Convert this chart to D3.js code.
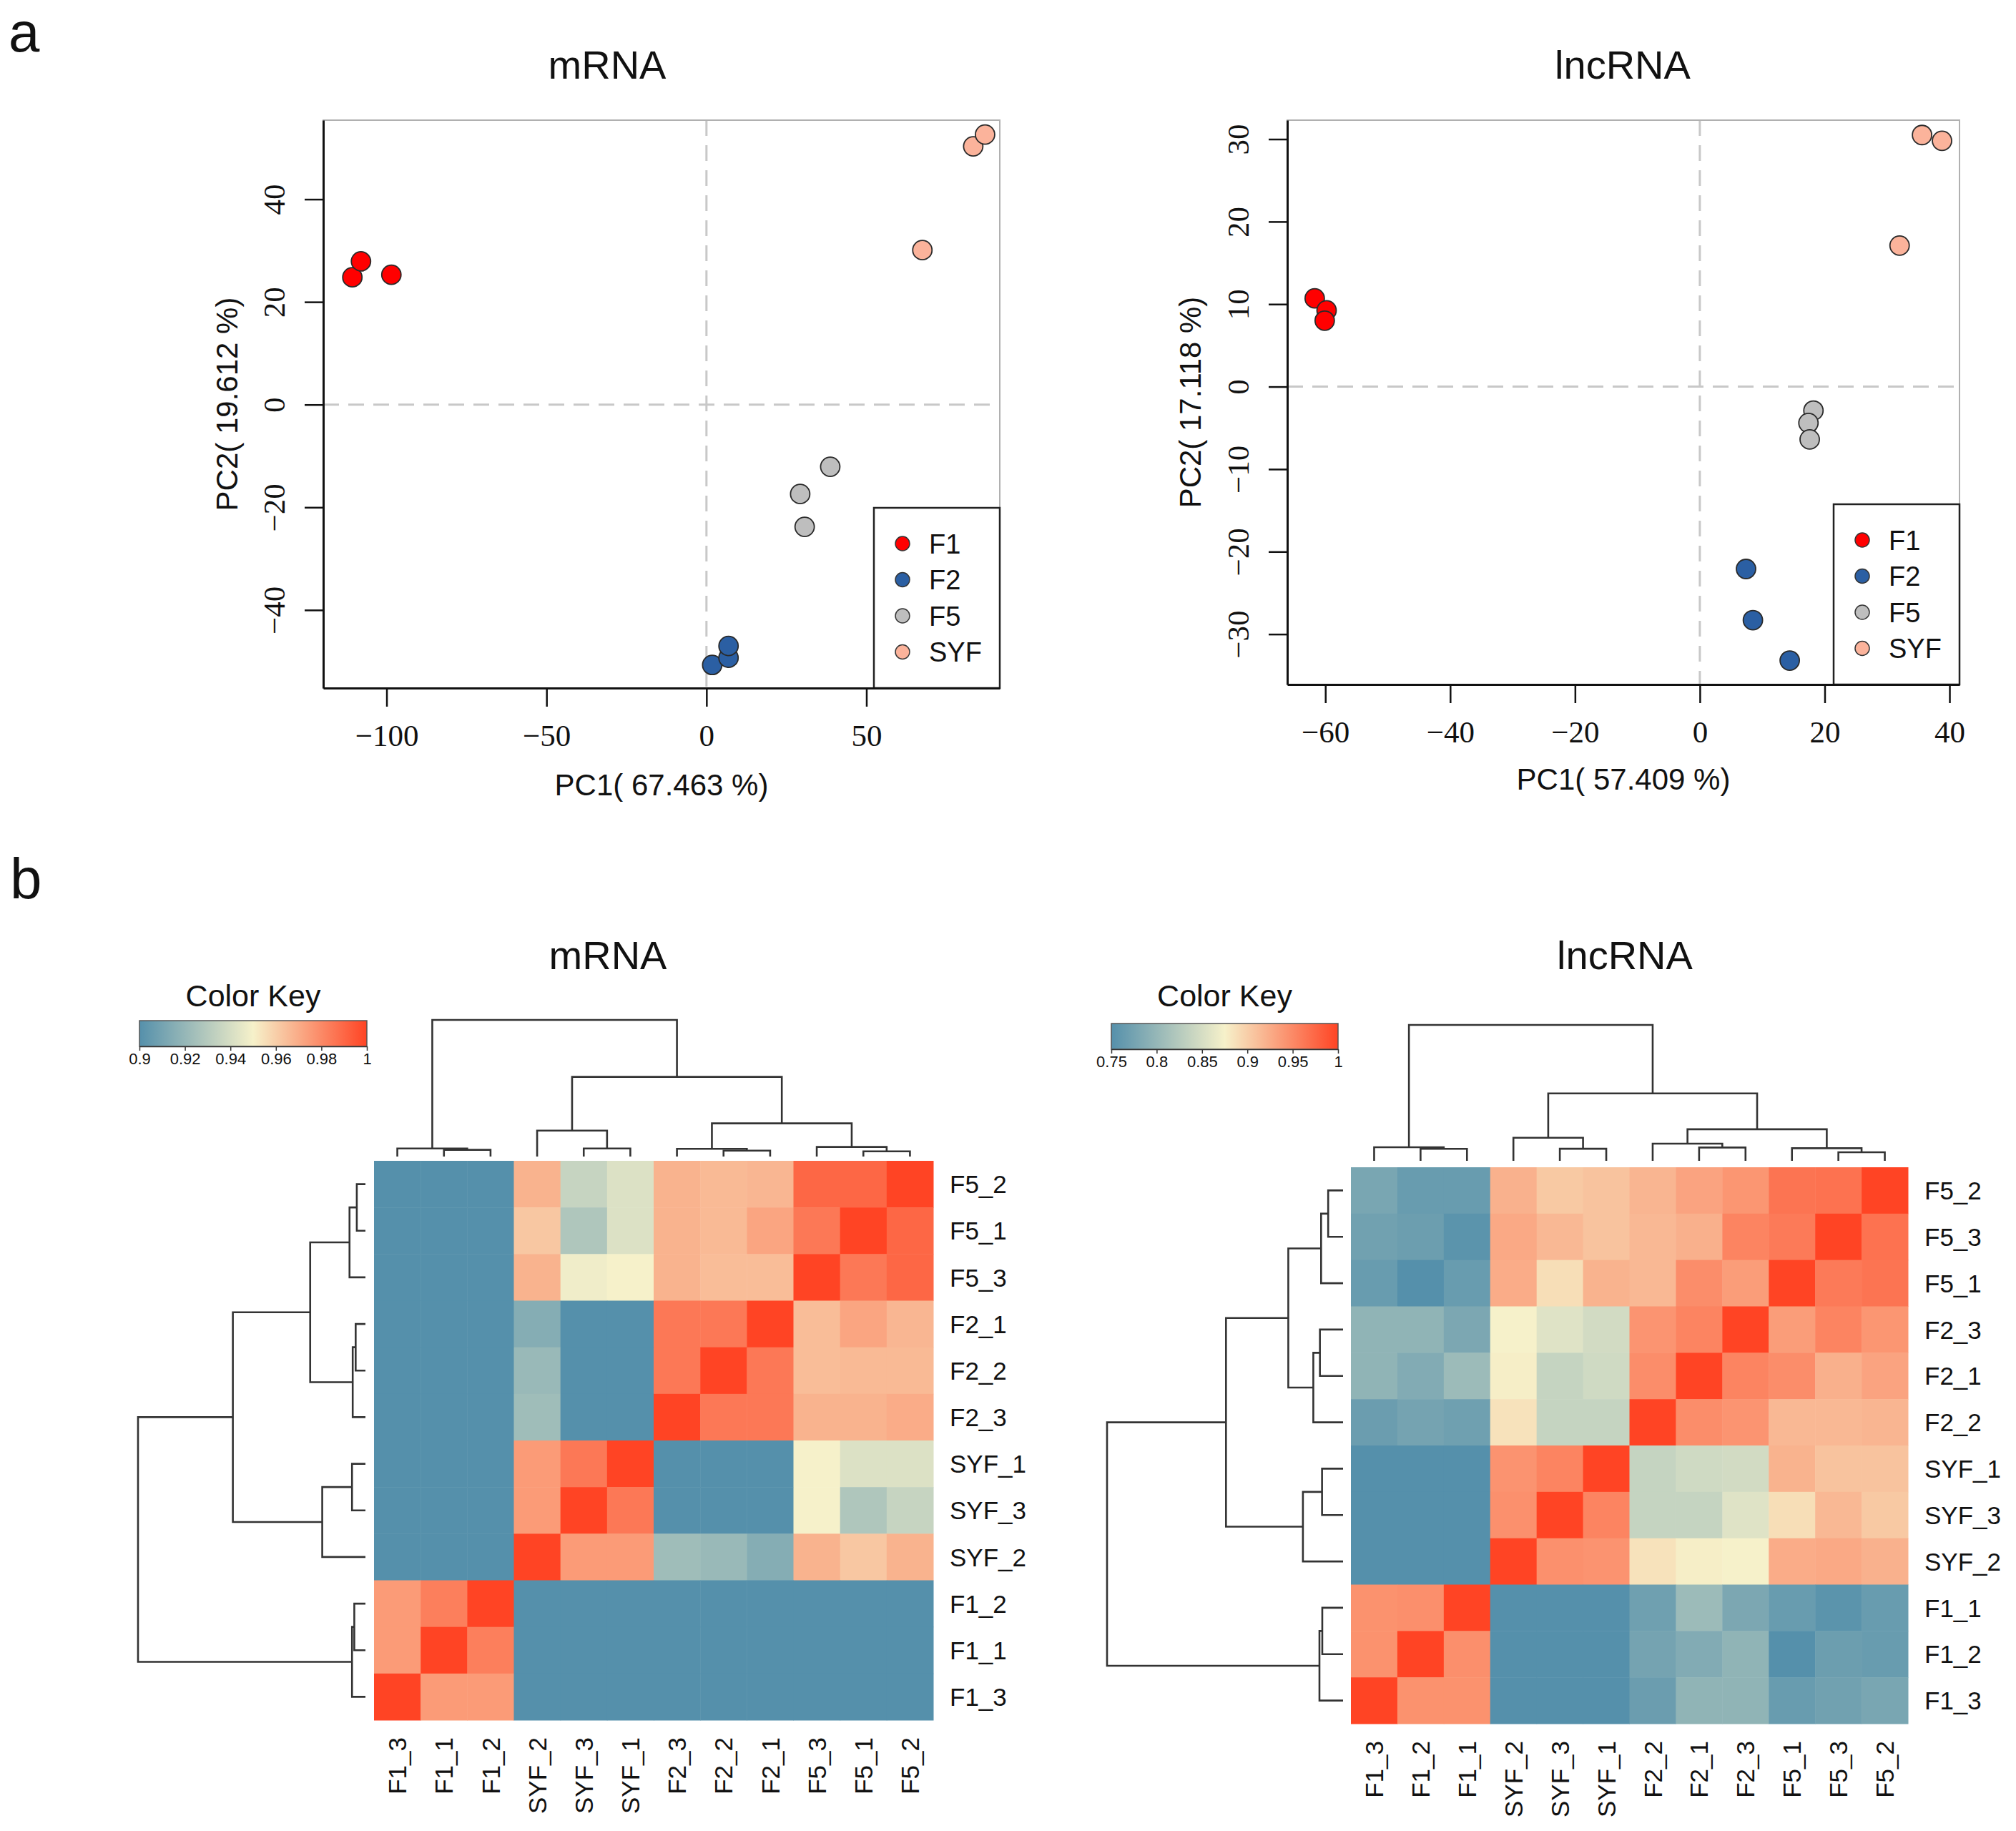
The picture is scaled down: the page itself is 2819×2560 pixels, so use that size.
<!DOCTYPE html>
<html>
<head>
<meta charset="utf-8">
<script src="https://cdn.jsdelivr.net/npm/d3@7"></script>
<style>
  body { margin: 0; background: #fff; }
  svg { display: block; }
  text { fill: #111; }
</style>
</head>
<body>
<div id="chart"></div>
<script>
// ---- PCA data ----
const groups = ["F1", "F2", "F5", "SYF"]
const groupColors = ["#FF0000", "#2B5FA3", "#BEBEBE", "#FBB39B"]
const sampleGroup = ["F1", "F1", "F1", "F2", "F2", "F2", "F5", "F5", "F5", "SYF", "SYF", "SYF"]

const mrnaPC1 = [-110.7, -108.0, -98.5, 1.8, 6.9, 6.9, 29.3, 30.7, 38.7, 67.5, 83.4, 87.1]
const mrnaPC2 = [24.8, 27.9, 25.3, -50.7, -49.3, -47.0, -17.4, -23.8, -12.1, 30.1, 50.3, 52.6]
const lncPC1 = [-61.7, -59.8, -60.1, 7.4, 8.5, 14.4, 18.2, 17.4, 17.6, 32.0, 35.6, 38.8]
const lncPC2 = [10.7, 9.25, 8.0, -22.1, -28.3, -33.2, -2.9, -4.4, -6.4, 17.1, 30.5, 29.8]

const mrnaXTicks = [-100, -50, 0, 50]
const mrnaYTicks = [-40, -20, 0, 20, 40]
const lncXTicks = [-60, -40, -20, 0, 20, 40]
const lncYTicks = [-30, -20, -10, 0, 10, 20, 30]

// ---- heatmap data ----
const mrnaCols = ["F1_3", "F1_1", "F1_2", "SYF_2", "SYF_3", "SYF_1", "F2_3", "F2_2", "F2_1", "F5_3", "F5_1", "F5_2"]
const mrnaRows = ["F5_2", "F5_1", "F5_3", "F2_1", "F2_2", "F2_3", "SYF_1", "SYF_3", "SYF_2", "F1_2", "F1_1", "F1_3"]
const mrnaCor = [
  [0.86, 0.86, 0.86, 0.968, 0.935, 0.942, 0.968, 0.966, 0.967, 0.990, 0.990, 1],
  [0.86, 0.86, 0.86, 0.962, 0.928, 0.942, 0.968, 0.966, 0.972, 0.985, 1, 0.990],
  [0.86, 0.86, 0.86, 0.968, 0.948, 0.950, 0.968, 0.965, 0.965, 1, 0.985, 0.990],
  [0.86, 0.86, 0.86, 0.915, 0.89, 0.89, 0.985, 0.985, 1, 0.965, 0.972, 0.967],
  [0.86, 0.86, 0.86, 0.921, 0.89, 0.89, 0.985, 1, 0.985, 0.965, 0.966, 0.966],
  [0.86, 0.86, 0.86, 0.923, 0.89, 0.89, 1, 0.985, 0.985, 0.968, 0.968, 0.970],
  [0.86, 0.86, 0.86, 0.975, 0.985, 1, 0.89, 0.89, 0.89, 0.950, 0.942, 0.942],
  [0.86, 0.86, 0.86, 0.975, 1, 0.985, 0.89, 0.89, 0.89, 0.950, 0.928, 0.935],
  [0.86, 0.86, 0.86, 1, 0.975, 0.975, 0.923, 0.921, 0.915, 0.968, 0.962, 0.968],
  [0.975, 0.983, 1, 0.86, 0.86, 0.86, 0.86, 0.86, 0.86, 0.86, 0.86, 0.86],
  [0.975, 1, 0.983, 0.86, 0.86, 0.86, 0.86, 0.86, 0.86, 0.86, 0.86, 0.86],
  [1, 0.975, 0.975, 0.86, 0.86, 0.86, 0.86, 0.86, 0.86, 0.86, 0.86, 0.86]
]
// dendrogram: [height, left, right], heights relative to the root
const mrnaTree = [1.0,
  [0.059, "F1_3", [0.049, "F1_1", "F1_2"]],
  [0.583,
    [0.19, "SYF_2", [0.059, "SYF_3", "SYF_1"]],
    [0.243,
      [0.056, "F2_3", [0.043, "F2_2", "F2_1"]],
      [0.07, "F5_3", [0.038, "F5_1", "F5_2"]]]]]
const mrnaKeyStops = [0.9, 0.95, 1]
const mrnaKeyTicks = [0.9, 0.92, 0.94, 0.96, 0.98, 1]

const lncCols = ["F1_3", "F1_2", "F1_1", "SYF_2", "SYF_3", "SYF_1", "F2_2", "F2_1", "F2_3", "F5_1", "F5_3", "F5_2"]
const lncRows = ["F5_2", "F5_3", "F5_1", "F2_3", "F2_1", "F2_2", "SYF_1", "SYF_3", "SYF_2", "F1_1", "F1_2", "F1_3"]
const lncCor = [
  [0.778, 0.765, 0.765, 0.921, 0.904, 0.908, 0.918, 0.931, 0.941, 0.965, 0.967, 1],
  [0.772, 0.768, 0.755, 0.927, 0.916, 0.908, 0.916, 0.922, 0.954, 0.961, 1, 0.967],
  [0.765, 0.750, 0.765, 0.925, 0.889, 0.920, 0.916, 0.947, 0.936, 1, 0.961, 0.965],
  [0.796, 0.796, 0.780, 0.875, 0.857, 0.847, 0.942, 0.954, 1, 0.936, 0.954, 0.941],
  [0.796, 0.785, 0.805, 0.877, 0.837, 0.845, 0.947, 1, 0.954, 0.947, 0.922, 0.931],
  [0.767, 0.775, 0.770, 0.886, 0.837, 0.837, 1, 0.947, 0.942, 0.916, 0.916, 0.918],
  [0.72, 0.72, 0.72, 0.943, 0.954, 1, 0.837, 0.845, 0.847, 0.920, 0.908, 0.908],
  [0.72, 0.72, 0.72, 0.945, 1, 0.954, 0.837, 0.837, 0.857, 0.889, 0.916, 0.904],
  [0.72, 0.72, 0.72, 1, 0.945, 0.943, 0.886, 0.877, 0.875, 0.925, 0.927, 0.921],
  [0.944, 0.946, 1, 0.72, 0.72, 0.72, 0.770, 0.805, 0.780, 0.765, 0.755, 0.765],
  [0.944, 1, 0.946, 0.72, 0.72, 0.72, 0.775, 0.785, 0.796, 0.750, 0.768, 0.765],
  [1, 0.944, 0.944, 0.72, 0.72, 0.72, 0.767, 0.796, 0.796, 0.765, 0.772, 0.778]
]
const lncTree = [1.0,
  [0.10, "F1_3", [0.088, "F1_2", "F1_1"]],
  [0.496,
    [0.17, "SYF_2", [0.089, "SYF_3", "SYF_1"]],
    [0.232,
      [0.126, "F2_2", [0.098, "F2_1", "F2_3"]],
      [0.093, "F5_1", [0.063, "F5_3", "F5_2"]]]]]
const lncKeyStops = [0.75, 0.875, 1]
const lncKeyTicks = [0.75, 0.8, 0.85, 0.9, 0.95, 1]

const heatColors = ["#5590AB", "#F6F1CA", "#FF4424"]

const SANS = "'Liberation Sans', Arial, sans-serif"
const SERIF = "'Liberation Serif', 'Times New Roman', serif"

const width = 2819
const height = 2560
const svg = d3.select("#chart").append("svg").attr("width", width).attr("height", height)
svg.append("rect").attr("width", width).attr("height", height).attr("fill", "#fff")

// panel letters
svg.append("text").attr("x", 12).attr("y", 72).attr("font-family", SANS).attr("font-size", 78).text("a")
svg.append("text").attr("x", 14).attr("y", 1256).attr("font-family", SANS).attr("font-size", 80).text("b")

// ---------- PCA ----------
function drawPCA(p) {
  const g = svg.append("g")
  const x = d3.scaleLinear().domain(p.xDom).range([p.x0, p.x1])
  const y = d3.scaleLinear().domain(p.yDom).range([p.y1, p.y0])
  const color = d3.scaleOrdinal().domain(groups).range(groupColors)

  g.append("text").attr("x", p.titleX).attr("y", 110).attr("text-anchor", "middle")
    .attr("font-family", SANS).attr("font-size", 56).text(p.title)

  // dashed zero lines
  g.append("line").attr("x1", x(0)).attr("x2", x(0)).attr("y1", p.y0).attr("y2", p.y1)
    .attr("stroke", "#c8c8c8").attr("stroke-width", 3).attr("stroke-dasharray", "22,13")
  g.append("line").attr("x1", p.x0).attr("x2", p.x1).attr("y1", y(0)).attr("y2", y(0))
    .attr("stroke", "#c8c8c8").attr("stroke-width", 3).attr("stroke-dasharray", "22,13")

  // box (top/right grey)
  g.append("rect").attr("x", p.x0).attr("y", p.y0).attr("width", p.x1 - p.x0).attr("height", p.y1 - p.y0)
    .attr("fill", "none").attr("stroke", "#b0b0b0").attr("stroke-width", 2)

  const pts = p.pc1.map((v, i) => ({ pc1: v, pc2: p.pc2[i], grp: sampleGroup[i] }))
  g.selectAll("circle.pt").data(pts).enter().append("circle").attr("class", "pt")
    .attr("cx", d => x(d.pc1)).attr("cy", d => y(d.pc2)).attr("r", 13.5)
    .attr("fill", d => color(d.grp)).attr("stroke", "#2a2a2a").attr("stroke-width", 1.8)

  // legend
  const lw = 176, lh = 252
  const lg = g.append("g").attr("transform", `translate(${p.x1 - lw},${p.y1 - lh})`)
  lg.append("rect").attr("width", lw).attr("height", lh).attr("fill", "#fff")
    .attr("stroke", "#222").attr("stroke-width", 2.5)
  const items = lg.selectAll("g.item").data(groups).enter().append("g").attr("class", "item")
    .attr("transform", (d, i) => `translate(0,${50 + i * 50.5})`)
  items.append("circle").attr("cx", 40).attr("r", 10).attr("fill", d => color(d))
    .attr("stroke", "#333").attr("stroke-width", 1.5)
  items.append("text").attr("x", 77).attr("dy", "0.36em").attr("font-family", SANS)
    .attr("font-size", 38).text(d => d)

  // axes
  const xAxis = d3.axisBottom(x).tickValues(p.xTicks).tickSize(26).tickSizeOuter(0)
  const yAxis = d3.axisLeft(y).tickValues(p.yTicks).tickSize(26).tickSizeOuter(0)
  const xg = g.append("g").attr("transform", `translate(0,${p.y1})`).call(xAxis)
  const yg = g.append("g").attr("transform", `translate(${p.x0},0)`).call(yAxis)
  ;[xg, yg].forEach(ax => {
    ax.attr("font-family", SERIF).attr("font-size", 43)
    ax.select(".domain").attr("stroke", "#111").attr("stroke-width", 3)
    ax.selectAll(".tick line").attr("stroke", "#111").attr("stroke-width", 2.5)
    ax.selectAll("text").attr("font-family", SERIF).attr("font-size", 43).attr("fill", "#111")
  })
  xg.selectAll("text").attr("y", 51).attr("dy", "0.7em")
  yg.selectAll("text").attr("x", null).attr("dy", null).attr("text-anchor", "middle")
    .attr("transform", "translate(-54,0) rotate(-90)")

  g.append("text").attr("x", (p.x0 + p.x1) / 2).attr("y", p.xLabelY).attr("text-anchor", "middle")
    .attr("font-family", SANS).attr("font-size", 42).text(p.xLabel)
  g.append("text").attr("transform", `translate(${p.yLabelX},${(p.y0 + p.y1) / 2}) rotate(-90)`)
    .attr("text-anchor", "middle").attr("dy", "0.35em")
    .attr("font-family", SANS).attr("font-size", 42).text(p.yLabel)
}

drawPCA({ title: "mRNA", titleX: 849, xLabel: "PC1( 67.463 %)", yLabel: "PC2( 19.612 %)",
  x0: 452, x1: 1398, y0: 168, y1: 962, xDom: [-119.8, 91.7], yDom: [-55.2, 55.4],
  xTicks: mrnaXTicks, yTicks: mrnaYTicks, pc1: mrnaPC1, pc2: mrnaPC2, xLabelY: 1112, yLabelX: 317 })
drawPCA({ title: "lncRNA", titleX: 2269, xLabel: "PC1( 57.409 %)", yLabel: "PC2( 17.118 %)",
  x0: 1800, x1: 2740, y0: 168, y1: 957, xDom: [-66.1, 41.6], yDom: [-36.1, 32.3],
  xTicks: lncXTicks, yTicks: lncYTicks, pc1: lncPC1, pc2: lncPC2, xLabelY: 1104, yLabelX: 1664 })

// ---------- heatmaps ----------
function layoutTree(node, pos, segs) {
  if (typeof node === "string") return { p: pos(node), h: 0 }
  const [h, a, b] = node
  const A = layoutTree(a, pos, segs)
  const B = layoutTree(b, pos, segs)
  segs.push({ h: h, p1: A.p, p2: B.p, h1: A.h, h2: B.h })
  return { p: (A.p + B.p) / 2, h: h }
}

let gradId = 0
function drawHeatmap(p) {
  const g = svg.append("g")
  const x = d3.scaleBand().domain(p.cols).range([p.x0, p.x1])
  const y = d3.scaleBand().domain(p.rows).range([p.y0, p.y1])
  const color = d3.scaleLinear().domain(p.keyStops).range(heatColors).clamp(true)

  g.append("text").attr("x", p.titleX).attr("y", 1355).attr("text-anchor", "middle")
    .attr("font-family", SANS).attr("font-size", 56).text(p.title)

  const cells = []
  p.matrix.forEach((row, i) => row.forEach((v, j) => cells.push({ r: p.rows[i], c: p.cols[j], v: v })))
  g.selectAll("rect.cell").data(cells).enter().append("rect").attr("class", "cell")
    .attr("x", d => x(d.c)).attr("y", d => y(d.r))
    .attr("width", x.bandwidth() + 0.5).attr("height", y.bandwidth() + 0.5)
    .attr("fill", d => color(d.v))

  // row labels
  g.selectAll("text.rl").data(p.rows).enter().append("text").attr("class", "rl")
    .attr("x", p.x1 + 23).attr("y", d => y(d) + y.bandwidth() / 2).attr("dy", "0.36em")
    .attr("font-family", SANS).attr("font-size", 35).text(d => d)
  // column labels
  g.selectAll("text.cl").data(p.cols).enter().append("text").attr("class", "cl")
    .attr("transform", d => `translate(${x(d) + x.bandwidth() / 2},${p.y1 + 24}) rotate(-90)`)
    .attr("text-anchor", "end").attr("dy", "0.36em")
    .attr("font-family", SANS).attr("font-size", 35).text(d => d)

  // column dendrogram
  const hc = d3.scaleLinear().domain([0, 1]).range([p.colDendroBase, p.colDendroTop])
  const segC = []
  layoutTree(p.tree, d => x(d) + x.bandwidth() / 2, segC)
  const dg = g.append("g").attr("stroke", "#333").attr("stroke-width", 2.6).attr("fill", "none")
  segC.forEach(s => {
    dg.append("path").attr("d",
      `M${s.p1},${hc(s.h1)}V${hc(s.h)}H${s.p2}V${hc(s.h2)}`)
  })
  // row dendrogram (same tree)
  const hr = d3.scaleLinear().domain([0, 1]).range([p.rowDendroBase, p.rowDendroTop])
  const segR = []
  layoutTree(p.tree, d => y(d) + y.bandwidth() / 2, segR)
  segR.forEach(s => {
    dg.append("path").attr("d",
      `M${hr(s.h1)},${s.p1}H${hr(s.h)}V${s.p2}H${hr(s.h2)}`)
  })

  // colour key
  const kx = d3.scaleLinear().domain([p.keyStops[0], p.keyStops[2]]).range([p.keyX0, p.keyX1])
  const id = "grad" + (gradId++)
  const grad = svg.append("defs").append("linearGradient").attr("id", id)
  p.keyStops.forEach(v => {
    grad.append("stop").attr("offset", (kx(v) - p.keyX0) / (p.keyX1 - p.keyX0)).attr("stop-color", color(v))
  })
  g.append("rect").attr("x", p.keyX0).attr("y", p.keyY0).attr("width", p.keyX1 - p.keyX0)
    .attr("height", 36).attr("fill", `url(#${id})`).attr("stroke", "#555").attr("stroke-width", 1.5)
  const kAxis = d3.axisBottom(kx).tickValues(p.keyTicks).tickSize(6).tickSizeOuter(0)
    .tickFormat(d => String(d))
  const ka = g.append("g").attr("transform", `translate(0,${p.keyY0 + 36})`).call(kAxis)
  ka.select(".domain").attr("stroke", "#333").attr("stroke-width", 1.5)
  ka.selectAll(".tick line").attr("stroke", "#333").attr("stroke-width", 1.5)
  ka.selectAll("text").attr("font-family", SANS).attr("font-size", 22).attr("fill", "#222")
    .attr("y", 9)
  g.append("text").attr("x", (p.keyX0 + p.keyX1) / 2).attr("y", 1407).attr("text-anchor", "middle")
    .attr("font-family", SANS).attr("font-size", 43).text("Color Key")
}

drawHeatmap({ title: "mRNA", titleX: 850, cols: mrnaCols, rows: mrnaRows, matrix: mrnaCor,
  tree: mrnaTree, keyStops: mrnaKeyStops, keyTicks: mrnaKeyTicks,
  x0: 523, x1: 1305, y0: 1623, y1: 2405,
  colDendroBase: 1617, colDendroTop: 1426, rowDendroBase: 511, rowDendroTop: 193,
  keyX0: 195, keyX1: 513, keyY0: 1427 })
drawHeatmap({ title: "lncRNA", titleX: 2272, cols: lncCols, rows: lncRows, matrix: lncCor,
  tree: lncTree, keyStops: lncKeyStops, keyTicks: lncKeyTicks,
  x0: 1889, x1: 2668, y0: 1632, y1: 2410,
  colDendroBase: 1623, colDendroTop: 1433, rowDendroBase: 1878, rowDendroTop: 1548,
  keyX0: 1554, keyX1: 1871, keyY0: 1431 })
</script>
</body>
</html>
